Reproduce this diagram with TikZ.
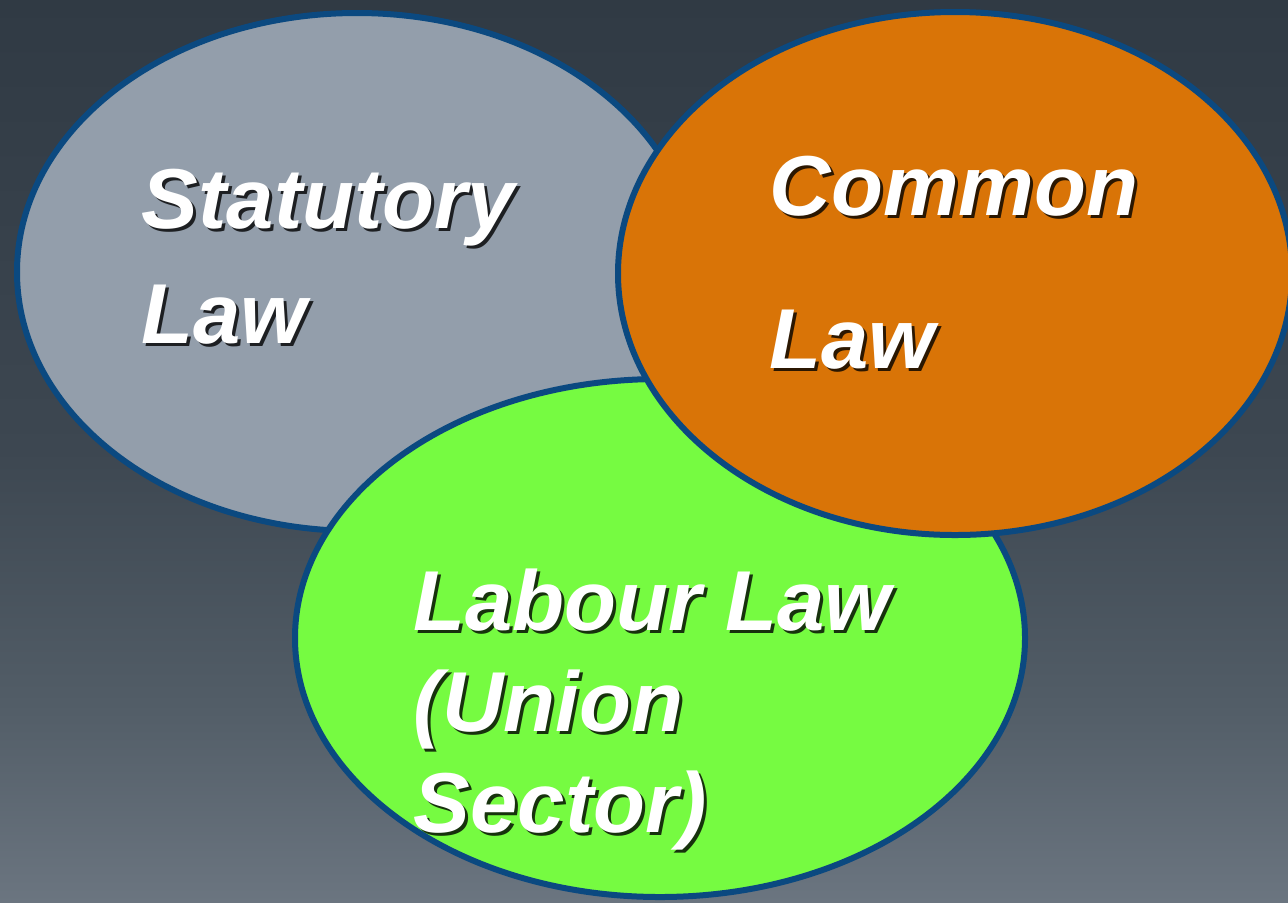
\documentclass[tikz,border=0pt]{standalone}
\usepackage{fontspec}
\setmainfont{Liberation Sans}
\usetikzlibrary{positioning}

\definecolor{bgtop}{HTML}{303A44}
\definecolor{bgmid}{HTML}{3D4751}
\definecolor{bglow}{HTML}{525D67}
\definecolor{bgbot}{HTML}{6B7580}
\definecolor{edgeblue}{HTML}{0B4980}
\definecolor{statgray}{HTML}{939EAB}
\definecolor{commonorange}{HTML}{D97407}
\definecolor{labourgreen}{HTML}{76FB41}

\pgfdeclareverticalshading{slidebg}{100bp}{color(0bp)=(bgbot); color(25bp)=(bgbot);
  color(36bp)=(bglow); color(50bp)=(bgmid); color(75bp)=(bgtop); color(100bp)=(bgtop)}

\begin{document}
\begin{tikzpicture}[
    circ/.style={draw=edgeblue, line width=0.6mm},
    lawtext/.style={text=white, inner sep=0pt, anchor=base west, align=left,
      font=\bfseries\itshape\fontsize{24.2pt}{#1}\selectfont},
    lawshadow/.style={lawtext=#1, text=black, opacity=0.8}
  ]
    \useasboundingbox (0,0) rectangle (12.88,9.02);
    \shade[shading=slidebg] (0,0) rectangle (12.88,9.02);
    \clip (0,0) rectangle (12.88,9.02);

    % the three sets
    \draw[circ, fill=statgray]  (3.57,6.30) ellipse (3.40 and 2.59);
    \draw[circ, fill=labourgreen]  (6.60,2.64) ellipse (3.65 and 2.59);
    \draw[circ, fill=commonorange]  (9.55,6.285) ellipse (3.37 and 2.615);

    % labels (base = last line)
    \coordinate (statpos) at (1.41,5.59);
    \coordinate (compos) at (7.69,5.34);
    \coordinate (labpos) at (4.13,0.70);

    \node[lawshadow=32.7pt] (statshadow) at ([shift={(0.03,-0.03)}]statpos) {Statutory\\Law};
    \node[lawtext=32.7pt] (stat) at (statpos) {Statutory\\Law};

    \node[lawshadow=43.5pt] (comshadow) at ([shift={(0.03,-0.03)}]compos) {Common\\Law};
    \node[lawtext=43.5pt] (com) at (compos) {Common\\Law};

    \node[lawshadow=28.6pt] (labshadow) at ([shift={(0.03,-0.03)}]labpos) {Labour Law\\(Union\\Sector)};
    \node[lawtext=28.6pt] (lab) at (labpos) {Labour Law\\(Union\\Sector)};
\end{tikzpicture}
\end{document}
